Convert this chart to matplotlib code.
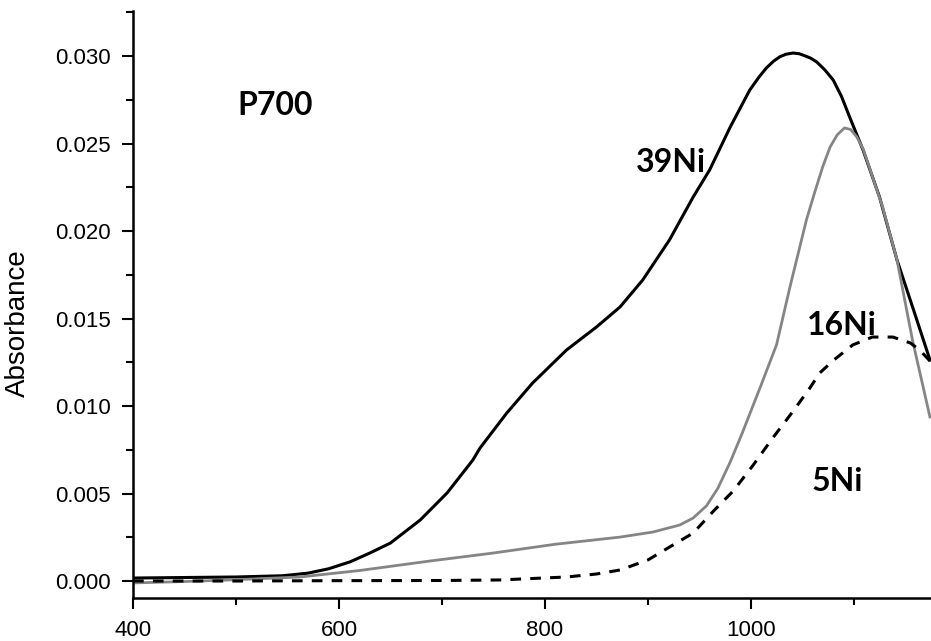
import matplotlib
matplotlib.use("Agg")
import matplotlib.pyplot as plt
from matplotlib.ticker import MultipleLocator, FormatStrFormatter

# Data (wavelength nm, absorbance)
x_39ni = [400, 450, 500, 545, 570, 590, 611, 630, 650, 679, 705, 730, 737, 763,
          788, 821, 850, 873, 895, 921, 944, 960, 980, 999, 1008, 1015, 1022, 1028,
          1034, 1041, 1047, 1053, 1058, 1064, 1072, 1080, 1088, 1096, 1109, 1125,
          1142, 1158, 1174]
y_39ni = [0.00017, 0.00020, 0.00023, 0.00030, 0.00045, 0.00070, 0.00110, 0.00160,
          0.00217, 0.00349, 0.00503, 0.00691, 0.00760, 0.00960, 0.01131, 0.01320,
          0.01451, 0.01566, 0.01720, 0.01949, 0.02194, 0.02349, 0.02594, 0.02806,
          0.02880, 0.02931, 0.02970, 0.02995, 0.03010, 0.03017, 0.03013, 0.03000,
          0.02988, 0.02966, 0.02920, 0.02863, 0.02770, 0.02651, 0.02463, 0.02194,
          0.01834, 0.01550, 0.01263]

x_16ni = [400, 450, 494, 562, 620, 688, 750, 810, 873, 905, 931, 944, 957, 968,
          980, 992, 1010, 1025, 1038, 1054, 1062, 1070, 1077, 1084, 1091, 1097,
          1103, 1109, 1115, 1128, 1142, 1157, 1174]
y_16ni = [-0.00011, -0.00003, 0.00006, 0.00023, 0.00060, 0.00114, 0.00160, 0.00210,
          0.00251, 0.00280, 0.00320, 0.00360, 0.00430, 0.00530, 0.00680, 0.00850,
          0.01120, 0.01350, 0.01680, 0.02063, 0.02220, 0.02370, 0.02480, 0.02550,
          0.02589, 0.02580, 0.02537, 0.02470, 0.02366, 0.02137, 0.01834, 0.01377,
          0.00937]

x_5ni = [400, 500, 600, 700, 756, 821, 850, 873, 900, 921, 944, 963, 983, 1002,
         1021, 1041, 1057, 1067, 1080, 1099, 1118, 1138, 1155, 1164, 1175]
y_5ni = [0.0, 0.0, 0.00002, 0.00003, 0.00006, 0.00023, 0.00040, 0.00063, 0.00120,
         0.00194, 0.00274, 0.00395, 0.00515, 0.00660, 0.00815, 0.00970, 0.01100,
         0.01189, 0.01260, 0.01349, 0.01394, 0.01394, 0.01360, 0.01320, 0.01251]

fig = plt.figure(figsize=(9.31, 6.41), dpi=100)
ax = fig.add_axes([0.1429, 0.0671, 0.8571, 0.9157])

ax.plot(x_39ni, y_39ni, color='black', lw=2.2, solid_joinstyle='round')
ax.plot(x_16ni, y_16ni, color='#858585', lw=2.0, solid_joinstyle='round')
ax.plot(x_5ni, y_5ni, color='black', lw=2.2, ls=(0, (3.5, 3)))

ax.set_xlim(400, 1175)
ax.set_ylim(-0.00097, 0.03257)

ax.spines['top'].set_visible(False)
ax.spines['right'].set_visible(False)
ax.spines['left'].set_linewidth(1.8)
ax.spines['bottom'].set_linewidth(1.8)

ax.xaxis.set_major_locator(MultipleLocator(200))
ax.xaxis.set_minor_locator(MultipleLocator(100))
ax.yaxis.set_major_locator(MultipleLocator(0.005))
ax.yaxis.set_minor_locator(MultipleLocator(0.0025))
ax.yaxis.set_major_formatter(FormatStrFormatter('%.3f'))

ax.tick_params(which='major', length=8, width=1.5, direction='out', labelsize=16, pad=8)
ax.tick_params(which='minor', length=5, width=1.5, direction='out')
for lab in ax.get_xticklabels() + ax.get_yticklabels():
    lab.set_fontfamily('Liberation Sans')

ax.set_ylabel('Absorbance', fontsize=20, family='Liberation Sans')
ax.yaxis.set_label_coords(-0.128, 0.468)

# Annotations
lbl = dict(fontsize=23, fontweight='bold', family='Lato', ha='center', va='center')
ax.text(538, 0.0272, 'P700', **lbl)
ax.text(922, 0.0239, '39Ni', **lbl)
ax.text(1088, 0.0146, '16Ni', **lbl)
ax.text(1084, 0.0057, '5Ni', **lbl)

fig.savefig('out.png', dpi=100)
